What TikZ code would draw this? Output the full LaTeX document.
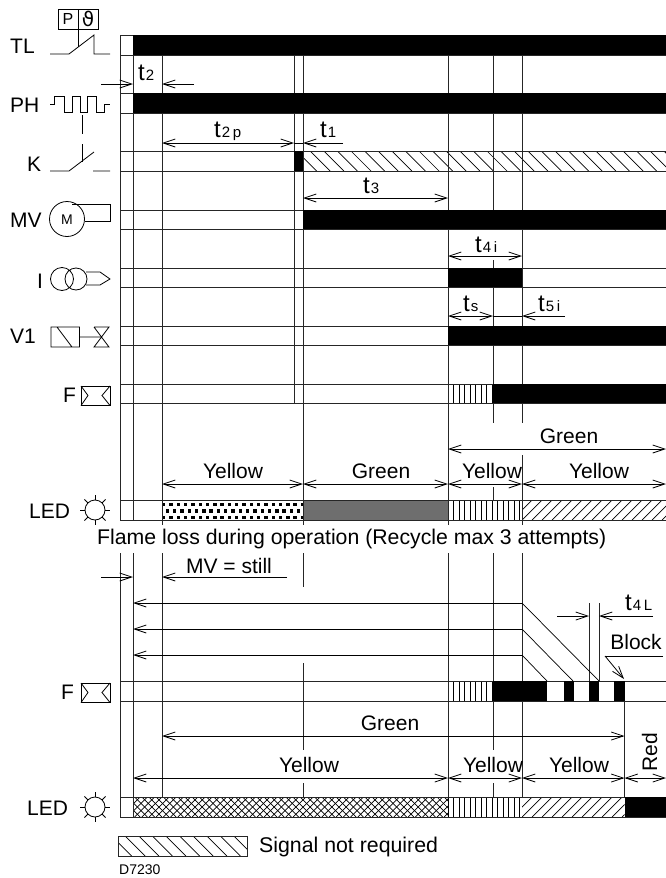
\documentclass[tikz,border=0pt]{standalone}
\usepackage{fontspec}
\setmainfont{Liberation Sans}
\newfontfamily\symfont{DejaVu Sans}
\usetikzlibrary{arrows.meta,calc}
\newcommand\fs[1]{\fontsize{#1}{#1}\selectfont}
\newcommand\tlab[1]{\fs{24}t\kern1pt\fs{15}\addfontfeatures{LetterSpace=18}#1}
% hatch helpers: x1 y1 x2 y2 spacing
\newcommand\hatchnw[5]{\begin{scope}\clip (#1,#2) rectangle (#3,#4);
  \pgfmathsetmacro\hstart{#1-(#4-#2)}\pgfmathsetmacro\hnext{\hstart+#5}
  \foreach \hx in {\hstart,\hnext,...,#3} \draw[thinl] (\hx,#2) -- ++(#4-#2,#4-#2);\end{scope}}
\newcommand\hatchne[5]{\begin{scope}\clip (#1,#2) rectangle (#3,#4);
  \pgfmathsetmacro\hnext{#1+#5}\pgfmathsetmacro\hend{#3+(#4-#2)}
  \foreach \hx in {#1,\hnext,...,\hend} \draw[thinl] (\hx,#2) -- ++(#2-#4,#4-#2);\end{scope}}
\newcommand\hatchv[5]{\begin{scope}\clip (#1,#2) rectangle (#3,#4);
  \pgfmathsetmacro\hnext{#1+#5}
  \foreach \hx in {#1,\hnext,...,#3} \draw[thinl] (\hx,#2) -- (\hx,#4);\end{scope}}
\newcommand\sunicon[2]{\draw[sym] (#1,#2) circle (10);
  \foreach \ang in {0,45,...,315} \draw[sym] ($(#1,#2)+(\ang:10)$) -- ($(#1,#2)+(\ang:15)$);}
\begin{document}
\begin{tikzpicture}[x=1pt,y=-1pt,
  grid/.style={line width=0.9pt,black!85},
  thinl/.style={line width=0.7pt,black},
  sym/.style={line width=0.8pt,black},
  dim/.style={line width=0.8pt,black,{Straight Barb[length=12pt,width=8pt]}-{Straight Barb[length=12pt,width=8pt]}},
  dimr/.style={line width=0.8pt,black,-{Straight Barb[length=12pt,width=8pt]}},
  lab/.style={anchor=base,inner sep=0pt,font=\fs{21}},
  labl/.style={anchor=base west,inner sep=0pt,font=\fs{21}},
  tl/.style={anchor=base west,inner sep=0pt}]
\useasboundingbox (0,0) rectangle (666,878);
\fill[white] (0,0) rectangle (666,878);

% ---- fills and hatches
\hatchnw{303}{151}{666}{171}{13.6}
\hatchv{448}{384}{493}{403}{5.5}
\begin{scope}\clip (162,500) rectangle (303,520);
  \foreach \dx in {0,7.3,...,141} {
    \fill (162+\dx,503) rectangle ++(3.4,3.4);
    \fill (162+\dx,516) rectangle ++(3.4,3.4);
    \fill (165.6+\dx,509.4) rectangle ++(3.4,3.4);}
\end{scope}
\fill[black!57] (303,500) rectangle (448,520);
\hatchv{448}{500}{522}{520}{5.5}
\hatchne{522}{500}{666}{520}{10}
\hatchv{448}{681}{493}{701}{5.5}
\hatchnw{133}{797}{448}{817}{7.2}
\hatchne{133}{797}{448}{817}{7.2}
\hatchv{448}{797}{522}{817}{5.5}
\hatchne{522}{797}{624.5}{817}{10}
\hatchnw{118}{836}{247}{856}{13.6}
\draw[grid] (118,836) rectangle (247,856);

% ---- horizontal row lines
\foreach \ya/\yb in {35/55,93/113,151/171,210/229,268/287,326/345,384/403,500/520,681/701,797/817}
  \draw[grid] (120,\ya) -- (666,\ya) (120,\yb) -- (666,\yb);

% ---- vertical lines
\draw[grid] (120,35) -- (120,520) (120,553) -- (120,817);
\draw[grid] (133,35) -- (133,520) (133,553) -- (133,817);
\draw[grid] (162,55) -- (162,525) (162,553) -- (162,797);
\draw[grid] (294,55) -- (294,403);
\draw[grid] (303,55) -- (303,525) (303,553) -- (303,587) (303,663) -- (303,750) (303,783) -- (303,797);
\draw[grid] (448,55) -- (448,525) (448,553) -- (448,797);
\draw[grid] (493,55) -- (493,210) (493,260) -- (493,423) (493,487) -- (493,500) (493,553) -- (493,750) (493,783) -- (493,797);
\draw[grid] (522,55) -- (522,423) (522,455) -- (522,525) (522,553) -- (522,797);
\draw[grid] (589,603) -- (589,681);
\draw[grid] (599,603) -- (599,681);
\draw[grid] (624.5,701) -- (624.5,797);

% ---- black bars
\fill (133,35) rectangle (666,55);
\fill (133,93) rectangle (666,113);
\fill (294,151) rectangle (303,171);
\fill (303,210) rectangle (666,229);
\fill (448,268) rectangle (522,287);
\fill (448,326) rectangle (666,345);
\fill (493,384) rectangle (666,403);
\fill (493,681) rectangle (547,701);
\fill (564,681) rectangle (574,701);
\fill (589,681) rectangle (599,701);
\fill (614,681) rectangle (625,701);
\fill (624.5,797) rectangle (666,817);

% ---- dimension end points
\coordinate (a2a) at (101,84); \coordinate (a2b) at (133,84);
\coordinate (a2c) at (194,84); \coordinate (a2d) at (162,84);
\coordinate (p1) at (162,143); \coordinate (p2) at (294,143);
\coordinate (q1) at (343,143); \coordinate (q2) at (303,143);
\coordinate (r1) at (303,198); \coordinate (r2) at (448,198);
\coordinate (s1) at (448,256); \coordinate (s2) at (522,256);
\coordinate (u1) at (448,316); \coordinate (u2) at (493,316);
\coordinate (u3) at (565,316); \coordinate (u4) at (522,316);
\coordinate (g1) at (448,449); \coordinate (g2) at (666,449);
\coordinate (y1) at (162,484); \coordinate (y2) at (303,484);
\coordinate (y3) at (448,484); \coordinate (y4) at (522,484); \coordinate (y5) at (666,484);
\coordinate (m1) at (101,577); \coordinate (m2) at (133,577);
\coordinate (m3) at (287,577); \coordinate (m4) at (162,577);
\coordinate (w1) at (522,603); \coordinate (w1a) at (133,603); \coordinate (w1b) at (599,681);
\coordinate (w2) at (522,629); \coordinate (w2a) at (133,629); \coordinate (w2b) at (573,681);
\coordinate (w3) at (522,655); \coordinate (w3a) at (133,655); \coordinate (w3b) at (547,681);
\coordinate (l1) at (557,616); \coordinate (l2) at (589,616);
\coordinate (l3) at (653,616); \coordinate (l4) at (599,616);
\coordinate (b1) at (663,656); \coordinate (b2) at (605,656); \coordinate (b3) at (624,679);
\coordinate (h1) at (162,736); \coordinate (h2) at (624.5,736);
\coordinate (k1) at (133,778); \coordinate (k2) at (448,778); \coordinate (k3) at (522,778);
\coordinate (k4) at (624.5,778); \coordinate (k5) at (666,778);

% ---- dimension arrows
\draw[dimr] (a2a) -- (a2b);
\draw[dimr] (a2c) -- (a2d);
\draw[dim] (p1) -- (p2);
\draw[dimr] (q1) -- (q2);
\draw[line width=0.8pt] (p2) -- (q2);
\draw[dim] (r1) -- (r2);
\draw[dim] (s1) -- (s2);
\draw[dim] (u1) -- (u2);
\draw[dimr] (u3) -- (u4);
\draw[line width=0.8pt] (u2) -- (u4);
\draw[dim] (g1) -- (g2);
\draw[dim] (y1) -- (y2);
\draw[dim] (y2) -- (y3);
\draw[dim] (y3) -- (y4);
\draw[dim] (y4) -- (y5);
\draw[dimr] (m1) -- (m2);
\draw[dimr] (m3) -- (m4);
\draw[dimr] (w1) -- (w1a);
\draw[thinl] (w1) -- (w1b);
\draw[dimr] (w2) -- (w2a);
\draw[thinl] (w2) -- (w2b);
\draw[dimr] (w3) -- (w3a);
\draw[thinl] (w3) -- (w3b);
\draw[dimr] (l1) -- (l2);
\draw[dimr] (l3) -- (l4);
\draw[thinl] (b1) -- (b2);
\draw[dimr] (b2) -- (b3);
\draw[dim] (h1) -- (h2);
\draw[dim] (k1) -- (k2);
\draw[dim] (k2) -- (k3);
\draw[dim] (k3) -- (k4);
\draw[dim] (k4) -- (k5);

% ---- time labels
\node[tl] (tt2) at (138,80) {\tlab{2}};
\node[tl] (tt2p) at (214,137) {\tlab{2p}};
\node[tl] (tt1) at (320,137) {\tlab{1}};
\node[tl] (tt3) at (363,193) {\tlab{3}};
\node[tl] (tt4i) at (475,252) {\tlab{4i}};
\node[tl] (tts) at (463,311) {\tlab{s}};
\node[tl] (tt5i) at (538,311) {\tlab{5i}};
\node[tl] (tt4l) at (625,610) {\tlab{4L}};

% ---- colour and other labels
\node[lab] (cg1) at (569,443) {Green};
\node[lab] (cy1) at (233,478) {Yellow};
\node[lab] (cg2) at (381,478) {Green};
\node[lab] (cy2) at (492,478) {Yellow};
\node[lab] (cy3) at (599,478) {Yellow};
\node[labl,font=\fs{21.25}] (flame) at (97,544) {Flame loss during operation (Recycle max 3 attempts)};
\node[lab] (still) at (229,573) {MV = still};
\node[lab] (blk) at (636,649) {Block};
\node[lab] (cg3) at (390,730) {Green};
\node[lab] (cy4) at (309,772) {Yellow};
\node[lab] (cy5) at (493,772) {Yellow};
\node[lab] (cy6) at (579,772) {Yellow};
\node[lab,rotate=90] (cr) at (657,752) {Red};
\node[labl,font=\fs{21.3}] (sig) at (259,852) {Signal not required};
\node[labl,font=\fs{14}] (dno) at (119,874) {D7230};

% ---- left labels
\node[labl] (lTL) at (10,53) {TL};
\node[labl] (lPH) at (10,112) {PH};
\node[labl] (lK) at (27,171) {K};
\node[labl] (lMV) at (10,227) {MV};
\node[labl] (lI) at (37,288) {I};
\node[labl] (lV) at (10,343) {V1};
\node[labl] (lF) at (63,402) {F};
\node[labl] (lLED) at (29,518) {LED};
\node[labl] (lF2) at (61,699) {F};
\node[labl] (lLED2) at (27,815) {LED};

% ---- TL symbol
\draw[sym] (58,9) rectangle (98,29) (78,9) -- (78,47);
\node[inner sep=0pt,font=\fs{16}] (sP) at (68,19) {P};
\node[inner sep=0pt,font=\fs{20}\symfont] (sT) at (88,19) {ϑ};
\draw[sym] (50,54) -- (69,54) -- (94,35) -- (94,54) -- (110,54);
% ---- PH symbol
\draw[sym] (50,104) -- (54,104) -- (54,96) -- (64,96) -- (64,112) -- (72,112) -- (72,96) -- (80,96) -- (80,112) -- (87,112) -- (87,96) -- (96,96) -- (96,112) -- (104,112) -- (104,104) -- (110,104);
\draw[sym] (82,115) -- (82,134) (82,144) -- (82,162);
% ---- K symbol
\draw[sym] (50,171) -- (69,171) -- (94,152) (93,171) -- (110,171);
% ---- MV symbol
\draw[sym] (67,219) circle (17.5);
\node[inner sep=0pt,font=\fs{14}] (sM) at (67,220) {M};
\draw[sym] (72,204) -- (110,204) -- (110,221) -- (84.5,221);
% ---- I symbol
\draw[sym] (62,279) circle (11.5) (76,279) circle (11);
\draw[sym] (86,272) -- (100,272) -- (110,279) -- (100,285) -- (86,285);
% ---- V1 symbol
\draw[sym] (51,327) rectangle (79.5,347) (57,327) -- (72,347) (80,337) -- (101,337);
\draw[sym] (94,327) -- (109,327) -- (94,347) -- (109,347) -- (94,327);
% ---- F symbols
\foreach \ty in {386,683} {
  \draw[sym] (81,\ty) rectangle (110,\ty+19.5);
  \draw[sym] (81,\ty) -- (88,\ty+9.5) -- (81,\ty+19.5) (110,\ty) -- (102,\ty+9.5) -- (110,\ty+19.5);
}
% ---- LED symbols
\sunicon{95}{510}
\sunicon{95}{807}
\end{tikzpicture}
\end{document}
